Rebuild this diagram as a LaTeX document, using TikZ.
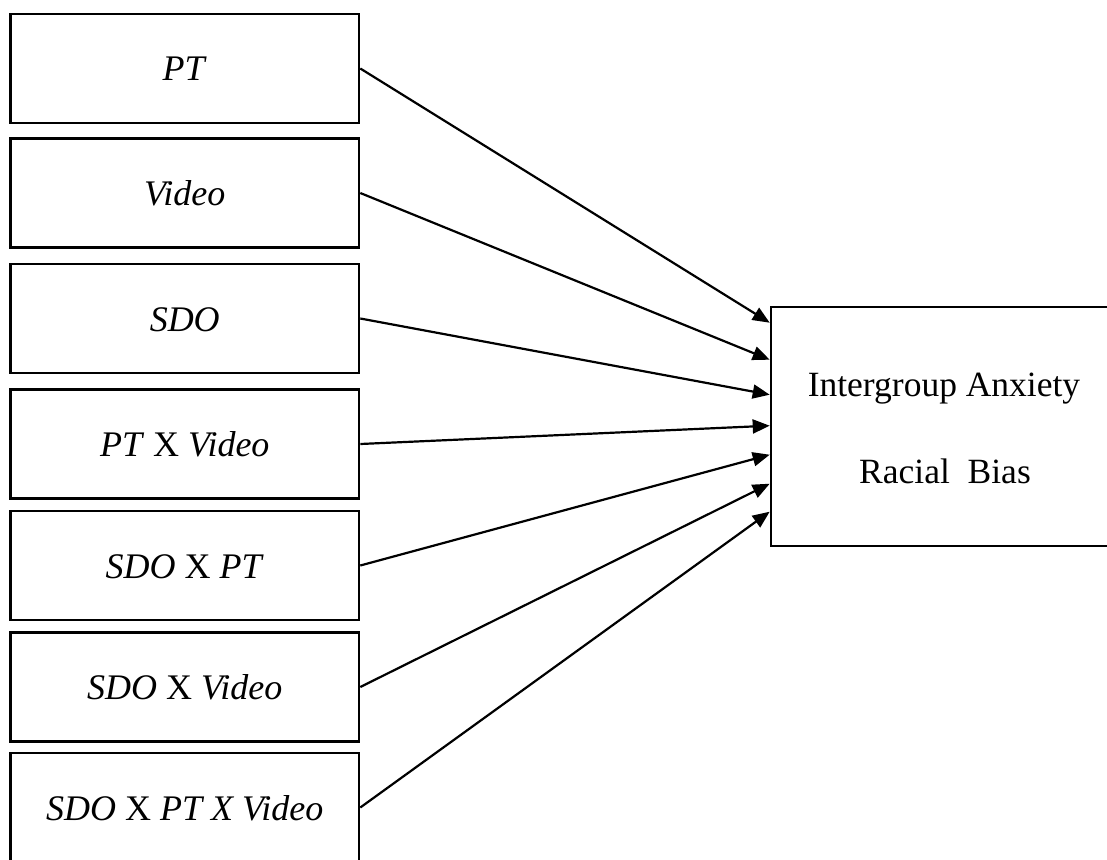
\documentclass[tikz,border=0pt]{standalone}
\usepackage{fontspec}
\setmainfont{Liberation Serif}
\usetikzlibrary{arrows.meta,calc}
\begin{document}
\begin{tikzpicture}[x=1pt,y=-1pt,
  inbox/.style={draw,line width=2.6pt,rectangle,minimum width=348.5pt,minimum height=109pt,
    inner sep=0pt,text height=25pt,text depth=0pt,font=\fontsize{36}{42}\selectfont},
  outbox/.style={draw,line width=2.6pt,rectangle,minimum width=346pt,minimum height=239pt,inner sep=0pt},
  lbl/.style={anchor=base,inner sep=0pt,font=\fontsize{35.5}{42}\selectfont},
  link/.style={line width=2.2pt,-{Triangle[length=17pt,width=14pt]}}
]
\useasboundingbox (0,0) rectangle (1107,859);
\node[inbox] (b1) at (184.75,68.5) {\textit{PT}};
\node[inbox] (b2) at (184.75,193) {\textit{Video}};
\node[inbox] (b3) at (184.75,318.5) {\textit{SDO}};
\node[inbox] (b4) at (184.75,444) {\textit{PT} X \textit{Video}};
\node[inbox] (b5) at (184.75,565.5) {\textit{SDO} X \textit{PT}};
\node[inbox] (b6) at (184.75,687) {\textit{SDO} X \textit{Video}};
\node[inbox] (b7) at (184.75,807.5) {\textit{SDO} X \textit{PT X Video}};
\node[outbox] (out) at (944,426.5) {};
\node[lbl] (t1) at (944,396) {Intergroup Anxiety};
\node[lbl] (t2) at (945,483) {Racial\hspace{0.5em}Bias};
\draw[link] (b1.east) -- ($(out.north west)+(0,17)$);
\draw[link] (b2.east) -- ($(out.north west)+(0,54)$);
\draw[link] (b3.east) -- ($(out.north west)+(0,89)$);
\draw[link] (b4.east) -- ($(out.north west)+(0,120)$);
\draw[link] (b5.east) -- ($(out.north west)+(0,149)$);
\draw[link] (b6.east) -- ($(out.north west)+(0,178)$);
\draw[link] (b7.east) -- ($(out.north west)+(0,206)$);
\end{tikzpicture}
\end{document}
